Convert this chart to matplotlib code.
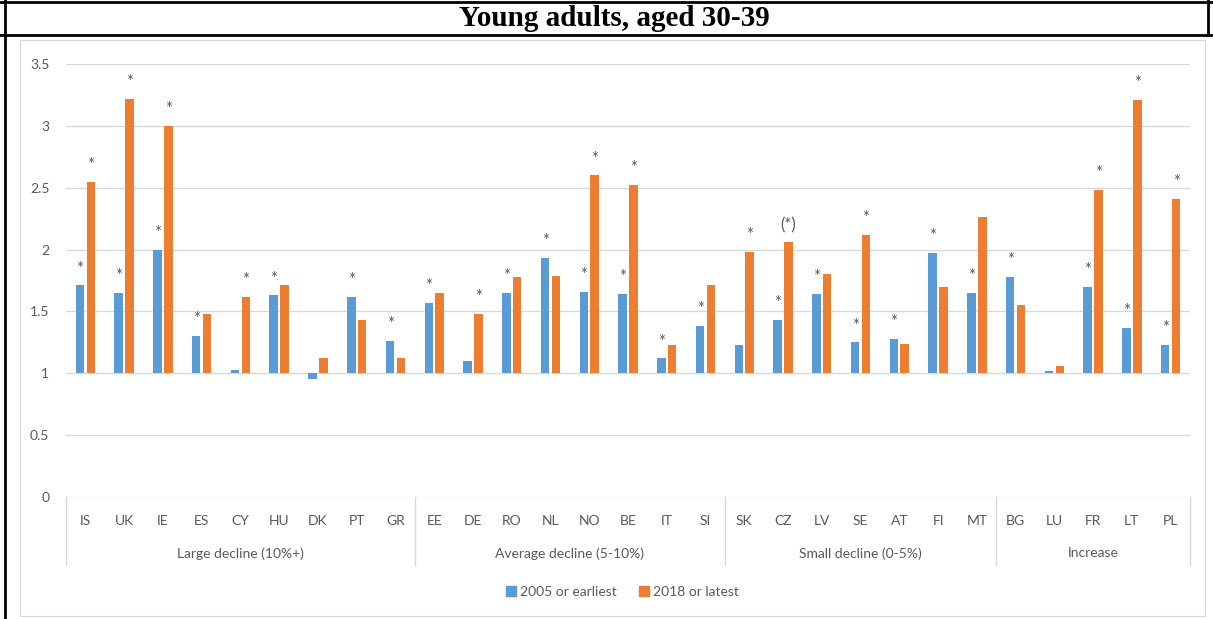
import numpy as np
import matplotlib
matplotlib.use('Agg')
import matplotlib.pyplot as plt
from matplotlib.lines import Line2D
from matplotlib.patches import Patch, Rectangle

# data
countries = ['IS', 'UK', 'IE', 'ES', 'CY', 'HU', 'DK', 'PT', 'GR',
             'EE', 'DE', 'RO', 'NL', 'NO', 'BE', 'IT', 'SI',
             'SK', 'CZ', 'LV', 'SE', 'AT', 'FI', 'MT',
             'BG', 'LU', 'FR', 'LT', 'PL']
groups = ['Large decline (10%+)', 'Average decline (5-10%)', 'Small decline (0-5%)', 'Increase']
group_sizes = [9, 8, 7, 5]
v2005 = [1.71, 1.65, 2.00, 1.30, 1.03, 1.63, 0.95, 1.62, 1.26,
         1.57, 1.10, 1.65, 1.93, 1.66, 1.64, 1.12, 1.38,
         1.23, 1.43, 1.64, 1.25, 1.28, 1.97, 1.65,
         1.78, 1.02, 1.70, 1.37, 1.23]
v2018 = [2.55, 3.22, 3.00, 1.48, 1.62, 1.71, 1.12, 1.43, 1.12,
         1.65, 1.48, 1.78, 1.79, 2.60, 2.52, 1.23, 1.71,
         1.98, 2.06, 1.80, 2.12, 1.24, 1.70, 2.26,
         1.55, 1.06, 2.48, 3.21, 2.41]
star2005 = ['*', '*', '*', '*', '', '*', '', '*', '*',
            '*', '', '*', '*', '*', '*', '*', '*',
            '', '*', '*', '*', '*', '*', '*',
            '*', '', '*', '*', '*']
star2018 = ['*', '*', '*', '', '*', '', '', '', '',
            '', '*', '', '', '*', '*', '', '',
            '*', '(*)', '', '*', '', '', '',
            '', '', '*', '*', '*']
series_names = ['2005 or earliest', '2018 or latest']
yticks = [0, 0.5, 1, 1.5, 2, 2.5, 3, 3.5]

blue = '#5B9BD5'
orange = '#ED7D31'
gray = '#595959'
grid = '#D9D9D9'
lab_font = ['Lato', 'DejaVu Sans']

W, H = 1213, 619
fig = plt.figure(figsize=(W / 100, H / 100), dpi=100)
ax = fig.add_axes([66 / W, 1 - 497 / H, (1190 - 66) / W, (497 - 64) / H])

x = np.arange(len(countries))
off, bw = 0.14, 0.22
ax.bar(x - off, np.array(v2005) - 1, bottom=1, width=bw, color=blue, zorder=3)
ax.bar(x + off, np.array(v2018) - 1, bottom=1, width=bw, color=orange, zorder=3)

for xi, v, s in zip(x, v2005, star2005):
    if s:
        ax.annotate(s, (xi - off, v), xytext=(0, 8.5), textcoords='offset points',
                    ha='center', va='baseline', fontsize=12, color=gray, family=lab_font)
for xi, v, s in zip(x, v2018, star2018):
    if s:
        ax.annotate(s, (xi + off, v), xytext=(0, 8.5), textcoords='offset points',
                    ha='center', va='baseline', fontsize=12, color=gray, family=lab_font)

ax.set_xlim(-0.5, len(countries) - 0.5)
ax.set_ylim(0, 3.5)
ax.set_yticks(yticks)
ax.set_yticklabels([f'{t:g}' for t in yticks], family=lab_font, fontsize=10, color=gray)
ax.tick_params(axis='y', length=0, pad=12)
ax.set_xticks([])
ax.grid(axis='y', color=grid, linewidth=1, zorder=0)
for sp in ax.spines.values():
    sp.set_visible(False)

# category box under the axis
tr = ax.get_xaxis_transform()
bounds = np.concatenate([[0], np.cumsum(group_sizes)]) - 0.5
for b in bounds:
    ax.plot([b, b], [0, -0.157], transform=tr, color=grid, lw=1, clip_on=False)
for xi, c in zip(x, countries):
    ax.text(xi, -0.055, c, transform=tr, ha='center', va='center',
            fontsize=10, color=gray, family=lab_font)
for i, g in enumerate(groups):
    ax.text((bounds[i] + bounds[i + 1]) / 2, -0.13, g, transform=tr, ha='center', va='center',
            fontsize=10, color=gray, family=lab_font)

handles = [Patch(color=blue), Patch(color=orange)]
leg = fig.legend(handles, series_names, loc='center', bbox_to_anchor=(0.513, 1 - 592 / H), ncol=2,
                 frameon=False, handlelength=0.7, handleheight=0.7, handletextpad=0.3,
                 columnspacing=1.6, prop={'family': lab_font, 'size': 10})
for t in leg.get_texts():
    t.set_color(gray)

# table frame and title
fig.add_artist(Rectangle((20 / W, 3 / H), (1205 - 20) / W, (616 - 40) / H, transform=fig.transFigure,
                         fill=False, edgecolor=grid, lw=0.8))
fig.add_artist(Line2D([0, 1], [1 - 2 / H, 1 - 2 / H], transform=fig.transFigure, color='black', lw=2))
fig.add_artist(Line2D([0, 1], [1 - 35 / H, 1 - 35 / H], transform=fig.transFigure, color='black', lw=2))
fig.add_artist(Line2D([5 / W, 5 / W], [0, 1], transform=fig.transFigure, color='black', lw=2))
fig.add_artist(Line2D([1208 / W, 1208 / W], [1 - 35 / H, 1], transform=fig.transFigure, color='black', lw=2))
fig.text(614 / W, 1 - 19 / H, 'Young adults, aged 30-39', ha='center', va='center',
         family='Liberation Serif', fontweight='bold', fontsize=21)

fig.savefig('out.png', dpi=100)
